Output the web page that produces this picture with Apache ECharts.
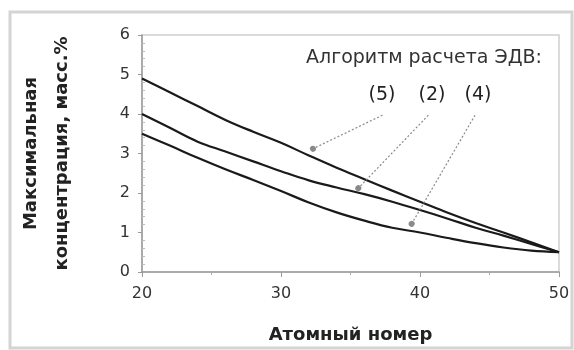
<!DOCTYPE html>
<html>
<head>
<meta charset="utf-8">
<script src="https://cdn.jsdelivr.net/npm/echarts@6/dist/echarts.min.js"></script>
<style>html,body{margin:0;padding:0;background:#fff}#c{width:574px;height:350px}</style>
</head>
<body>
<div id="c"></div>
<script>
// Data
var atomicNumbers = [20, 22, 24, 26, 28, 30, 32, 34, 36, 38, 40, 42, 44, 46, 48, 50];
var algo5 = [4.9, 4.55, 4.2, 3.85, 3.55, 3.27, 2.95, 2.64, 2.35, 2.06, 1.78, 1.5, 1.24, 1.0, 0.75, 0.5];
var algo2 = [4.0, 3.65, 3.3, 3.05, 2.8, 2.55, 2.32, 2.14, 1.97, 1.78, 1.57, 1.35, 1.12, 0.92, 0.71, 0.5];
var algo4 = [3.5, 3.2, 2.89, 2.6, 2.33, 2.05, 1.76, 1.51, 1.3, 1.12, 1.0, 0.86, 0.73, 0.62, 0.54, 0.5];
var seriesNames = ['(5)', '(2)', '(4)'];
var xTicks = [20, 30, 40, 50];
var yTicks = [0, 1, 2, 3, 4, 5, 6];
// annotation anchors (data coordinates): label position, arrow end
var labelPos = [[37.27, 4.48], [40.86, 4.48], [44.17, 4.48]];
var arrowStart = [[37.3, 3.97], [40.6, 3.97], [43.96, 3.97]];
var arrowEnd = [[32.3, 3.12], [35.56, 2.12], [39.4, 1.22]];
var annotationTitle = 'Алгоритм расчета ЭДВ:';
var titlePos = [31.8, 5.42];

function pairs(ys) { return atomicNumbers.map(function (x, i) { return [x, ys[i]]; }); }

var chart = echarts.init(document.getElementById('c'), null, { renderer: 'canvas' });
var F = 'DejaVu Sans';
var allSeries = [algo5, algo2, algo4].map(function (ys, i) {
  return {
    name: seriesNames[i], type: 'line', data: pairs(ys), smooth: 0.4, symbol: 'none',
    lineStyle: { color: '#1a1a1a', width: 2.2 },
    silent: true,
    markLine: {
      silent: true, symbol: ['none', 'circle'], symbolSize: 6,
      lineStyle: { color: '#8a8a8a', width: 1.2, type: [2, 2] },
      label: { show: false },
      data: [[{ coord: arrowStart[i] }, { coord: arrowEnd[i], itemStyle: { color: '#333' } }]]
    }
  };
});

chart.setOption({
  animation: false,
  grid: { left: 142, right: 15, top: 35, bottom: 78, show: true, borderColor: '#cfcfcf', borderWidth: 1.5, outerBoundsMode: 'none' },
  xAxis: {
    type: 'value', min: 20, max: 50, interval: 10,
    name: 'Атомный номер', nameLocation: 'middle', nameGap: 54,
    nameTextStyle: { fontFamily: F, fontSize: 18, fontWeight: 'bold', color: '#222' },
    axisLine: { lineStyle: { color: '#9a9a9a', width: 1.5 } },
    axisTick: { show: true, length: 5, lineStyle: { color: '#9a9a9a' } },
    minorTick: { show: true, splitNumber: 2, length: 3, lineStyle: { color: '#aaa' } },
    splitLine: { show: false },
    axisLabel: { margin: 14, fontFamily: F, fontSize: 16, color: '#333',
      formatter: function (v) { return xTicks.indexOf(v) >= 0 ? String(v) : ''; } }
  },
  yAxis: {
    type: 'value', min: 0, max: 6, interval: 1,
    name: 'Максимальная\nконцентрация, масс.%', nameLocation: 'middle', nameGap: 64, nameRotate: 90,
    nameTextStyle: { fontFamily: F, fontSize: 18, fontWeight: 'bold', color: '#222', lineHeight: 31 },
    axisLine: { show: true, lineStyle: { color: '#9a9a9a', width: 1.5 } },
    axisTick: { show: true, length: 4, lineStyle: { color: '#9a9a9a' } },
    minorTick: { show: true, splitNumber: 5, length: -3, lineStyle: { color: '#bbb' } },
    splitLine: { show: false },
    axisLabel: { margin: 12, fontFamily: F, fontSize: 16, color: '#333',
      formatter: function (v) { return yTicks.indexOf(v) >= 0 ? String(v) : ''; } }
  },
  series: allSeries
});

function place() {
  var g = [
    { type: 'rect', shape: { x: 10, y: 12, width: 562, height: 336 }, style: { fill: 'none', stroke: '#d4d4d4', lineWidth: 3 }, silent: true }
  ];
  var tp = chart.convertToPixel({ gridIndex: 0 }, titlePos);
  g.push({ type: 'text', x: tp[0], y: tp[1], style: { text: annotationTitle, font: '19px "' + F + '"', fill: '#333', textAlign: 'left', textVerticalAlign: 'middle' }, silent: true });
  labelPos.forEach(function (p, i) {
    var px = chart.convertToPixel({ gridIndex: 0 }, p);
    g.push({ type: 'text', x: px[0], y: px[1], style: { text: seriesNames[i], font: '19px "' + F + '"', fill: '#222', textAlign: 'center', textVerticalAlign: 'middle' }, silent: true });
  });
  chart.setOption({ graphic: g });
}
place();
</script>
</body>
</html>
